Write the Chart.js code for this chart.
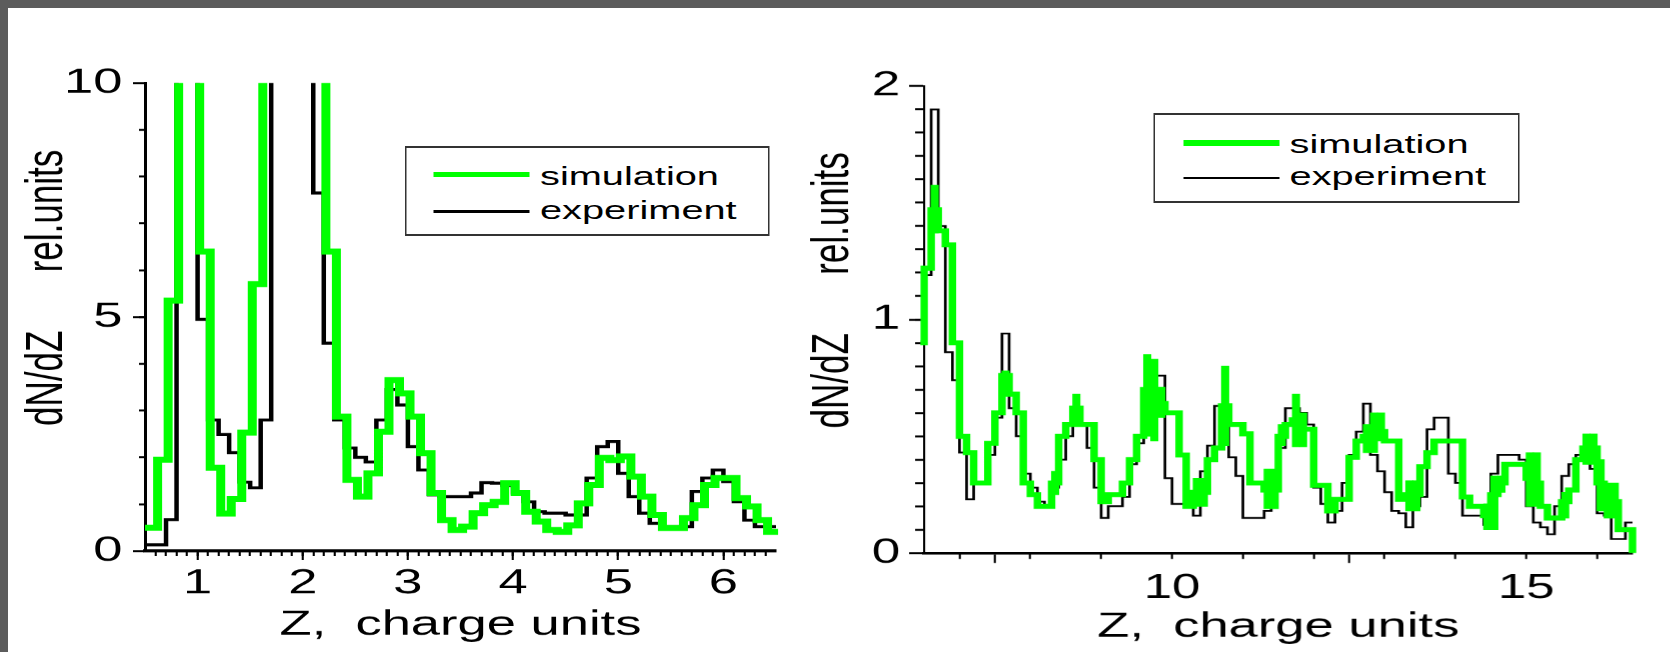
<!DOCTYPE html>
<html>
<head>
<meta charset="utf-8">
<script src="https://cdn.jsdelivr.net/npm/chart.js@4.4.1/dist/chart.umd.min.js"></script>
<style>
  html, body { margin: 0; padding: 0; overflow: hidden; scrollbar-width: none; background: #fff; }
  ::-webkit-scrollbar { display: none; }
  body {
    width: 1670px; height: 652px; position: relative;
    font-family: "Liberation Sans", Arial, sans-serif;
  }
  /* grey slide frame on the top and left edges */
  #frame {
    position: absolute; left: 0; top: 0; width: 1670px; height: 652px; box-sizing: border-box;
    border-left: 8px solid #5c5c5c; border-top: 8px solid #5c5c5c; background: #fff;
  }
  /* the original slide is stretched sideways, so everything is laid out narrow and widened */
  #stretch {
    position: absolute; left: 0; top: 0; width: 1113px; height: 652px; overflow: hidden;
    transform: scaleX(1.5); transform-origin: 0 0;
  }
  #stretch canvas { position: absolute; top: 0; }
  .legend-box {
    position: absolute; box-sizing: border-box; background: #fff;
    border-style: solid; border-color: #333; border-width: 2px 1.4px;
  }
  .swatch { position: absolute; }
  .ltext { position: absolute; font-size: 26.5px; line-height: 26.5px; color: #000; white-space: nowrap; }
</style>
</head>
<body>
<div id="frame"></div>
<div id="stretch">
  <canvas id="leftChart" width="530" height="652" style="left:0px"></canvas>
  <canvas id="rightChart" width="593" height="652" style="left:520px"></canvas>

  <div class="legend-box" style="left:270.3px; top:145.5px; width:243px; height:90.7px"></div>
  <div class="swatch" style="left:289.3px; top:172px; width:64px; height:5px; background:#00ff00"></div>
  <div class="swatch" style="left:289.3px; top:209.5px; width:64px; height:3px; background:#000"></div>
  <div class="ltext" style="left:360px; top:162.6px">simulation</div>
  <div class="ltext" style="left:360px; top:196.6px">experiment</div>

  <div class="legend-box" style="left:768.7px; top:113px; width:244px; height:90px"></div>
  <div class="swatch" style="left:789px; top:140px; width:64.3px; height:5.5px; background:#00ff00"></div>
  <div class="swatch" style="left:789px; top:177px; width:64.3px; height:2px; background:#000"></div>
  <div class="ltext" style="left:859.7px; top:130.6px">simulation</div>
  <div class="ltext" style="left:859.7px; top:162.6px">experiment</div>
</div>

<script>
// ---- data: dN/dZ histograms, bins of 0.1 charge units ----
const binWidth = 0.1;

// left panel, Z 0.5 .. 6.5 (values above 10 are off scale)
const leftSimStart = 0.42;
const leftSim = [
  0.5, 0.5, 1.95, 5.35, 24, 26, 6.4, 1.78, 0.8, 1.11,
  2.53, 5.7, 18, 40, 60, 55, 32, 16, 6.4, 2.87,
  1.52, 1.16, 1.66, 2.55, 3.65, 3.37, 2.87, 2.09, 1.24, 0.66,
  0.45, 0.52, 0.81, 0.98, 1.05, 1.45, 1.24, 0.84, 0.63, 0.45,
  0.41, 0.55, 1.02, 1.41, 1.99, 1.94, 2.02, 1.59, 1.16, 0.77,
  0.49, 0.49, 0.70, 0.98, 1.41, 1.56, 1.56, 1.13, 0.95, 0.66,
  0.41
];
const leftExpStart = 0.5;
const leftExp = [
  0.13, 0.13, 0.67, 20, 22, 4.95, 2.8, 2.49, 2.1, 1.47,
  1.35, 2.8, 25, 45, 50, 30, 7.65, 4.44, 2.8, 2.2,
  2.0, 1.9, 2.8, 3.45, 3.12, 2.23, 1.73, 1.2, 1.16, 1.16,
  1.16, 1.24, 1.46, 1.45, 1.4, 1.24, 1.05, 0.84, 0.81, 0.81,
  0.77, 0.77, 1.56, 2.23, 2.34, 1.66, 1.16, 0.81, 0.59, 0.52,
  0.52, 0.52, 1.27, 1.56, 1.73, 1.48, 1.05, 0.66, 0.52, 0.52
];
const leftXTicks = [1, 2, 3, 4, 5, 6];
const leftYTicks = [0, 5, 10];

// right panel, Z 6.5 .. 16.5
const rightSimStart = 6.4;
const rightSim = [
  0.90,
  1.22, 1.47, 1.38, 1.32, 0.90, 0.50, 0.43, 0.30, 0.30, 0.47,
  0.60, 0.76, 0.68, 0.60, 0.30, 0.25, 0.20, 0.20, 0.30, 0.50,
  0.55, 0.62, 0.55, 0.55, 0.40, 0.22, 0.25, 0.25, 0.30, 0.40,
  0.50, 0.70, 0.65, 0.64, 0.60, 0.60, 0.42, 0.20, 0.26, 0.26,
  0.40, 0.45, 0.63, 0.55, 0.55, 0.51, 0.30, 0.30, 0.27, 0.27,
  0.50, 0.55, 0.57, 0.53, 0.53, 0.29, 0.29, 0.18, 0.23, 0.23,
  0.41, 0.48, 0.50, 0.52, 0.52, 0.48, 0.48, 0.23, 0.25, 0.25,
  0.37, 0.43, 0.48, 0.48, 0.48, 0.48, 0.24, 0.20, 0.20, 0.16,
  0.25, 0.30, 0.38, 0.38, 0.38, 0.32, 0.30, 0.20, 0.15, 0.15,
  0.22, 0.27, 0.40, 0.45, 0.45, 0.30, 0.22, 0.22, 0.10, 0.10
];
const rightSimEnd = 0;
// bins where the simulation jitters inside one bin: [bin start, low, high]
const rightBandZ  = [6.6, 7.6, 8.3, 8.6, 9.6, 9.7, 9.8, 10.3, 10.4, 10.7, 11.3, 11.4, 11.5, 11.7, 11.8, 12.7, 12.8, 12.9, 13.3, 13.4, 14.4, 14.5, 14.6, 15.0, 15.1, 15.5, 15.8, 15.9, 16.0, 16.1, 16.2];
const rightBandLo = [1.37, 0.73, 0.25, 0.55, 0.50, 0.48, 0.58, 0.20, 0.20, 0.46, 0.19, 0.19, 0.46, 0.455, 0.455, 0.43, 0.43, 0.48, 0.18, 0.18, 0.10, 0.10, 0.26, 0.20, 0.20, 0.15, 0.38, 0.38, 0.18, 0.15, 0.15];
const rightBandHi = [1.575, 0.78, 0.35, 0.68, 0.85, 0.83, 0.71, 0.32, 0.32, 0.80, 0.36, 0.36, 0.55, 0.68, 0.60, 0.55, 0.60, 0.60, 0.31, 0.31, 0.21, 0.33, 0.33, 0.43, 0.43, 0.26, 0.51, 0.51, 0.40, 0.30, 0.30];
const rightExpStart = 6.5;
const rightExp = [
  1.19, 1.90, 1.40, 0.86, 0.74, 0.43, 0.23, 0.30, 0.30, 0.42,
  0.58, 0.94, 0.62, 0.50, 0.34, 0.28, 0.22, 0.20, 0.28, 0.40,
  0.50, 0.55, 0.55, 0.45, 0.28, 0.15, 0.20, 0.20, 0.24, 0.38,
  0.47, 0.55, 0.76, 0.76, 0.32, 0.21, 0.21, 0.21, 0.16, 0.35,
  0.46, 0.63, 0.55, 0.41, 0.33, 0.15, 0.15, 0.15, 0.18, 0.30,
  0.45, 0.62, 0.62, 0.60, 0.55, 0.28, 0.21, 0.13, 0.18, 0.30,
  0.42, 0.52, 0.64, 0.42, 0.35, 0.26, 0.18, 0.17, 0.11, 0.20,
  0.24, 0.53, 0.58, 0.58, 0.34, 0.30, 0.16, 0.16, 0.16, 0.12,
  0.34, 0.42, 0.42, 0.42, 0.40, 0.20, 0.13, 0.11, 0.08, 0.20,
  0.33, 0.38, 0.42, 0.40, 0.36, 0.17, 0.16, 0.06, 0.06, 0.13
];
const rightXTicks = [10, 15];
const rightYTicks = [0, 1, 2];

const GREEN = '#00ff00';
const FONT = "'Liberation Sans', Arial, Helvetica, sans-serif";

// step points: value i holds from bin edge i to edge i+1
function toSteps(start, values, endValue) {
  const pts = values.map((v, i) => ({ x: +(start + i * binWidth).toFixed(3), y: v }));
  const last = endValue === undefined ? values[values.length - 1] : endValue;
  pts.push({ x: +(start + values.length * binWidth).toFixed(3), y: last });
  return pts;
}

function range(from, to, step) {
  const out = [];
  for (let v = from; v <= to + 1e-9; v += step) out.push(+v.toFixed(3));
  return out;
}

function buildScales(o) {
  return {
    x: {
      type: 'linear', position: 'bottom', min: o.xMin, max: o.xMax, weight: 1, offset: false,
      afterBuildTicks: a => { a.ticks = o.xTicks.map(v => ({ value: v })); },
      afterFit: a => { a.height = o.xHeight; },
      border: { display: true, color: '#000', width: o.xBorder },
      grid: { drawOnChartArea: false, drawTicks: true, tickLength: o.xMajorLen, tickWidth: o.xTickW, tickColor: '#000' },
      ticks: { color: '#000', font: { family: FONT, size: o.tickFont }, padding: o.xPad, autoSkip: false, maxRotation: 0, callback: v => String(v) },
      title: { display: true, text: 'Z,  charge units', color: '#000', font: { family: FONT, size: 35 }, padding: { top: 0, bottom: o.xTitlePad } }
    },
    xMinor: {
      type: 'linear', position: 'bottom', min: o.xMin, max: o.xMax, weight: 0, offset: false,
      afterBuildTicks: a => { a.ticks = o.xMinor.map(v => ({ value: v })); },
      afterFit: a => { a.height = 0; },
      border: { display: false },
      grid: { drawOnChartArea: false, drawTicks: true, tickLength: o.xMinorLen, tickWidth: o.xTickW, tickColor: '#000' },
      ticks: { display: false }
    },
    y: {
      type: 'linear', position: 'left', min: o.yMin, max: o.yMax, weight: 1,
      afterBuildTicks: a => { a.ticks = o.yTicks.map(v => ({ value: v })); },
      afterFit: a => { a.width = o.yWidth; },
      border: { display: true, color: '#000', width: o.yBorder },
      grid: { drawOnChartArea: false, drawTicks: true, tickLength: o.yMajorLen, tickWidth: o.yTickW, tickColor: '#000' },
      ticks: { color: '#000', font: { family: FONT, size: o.tickFont }, padding: o.yPad, callback: v => String(v) },
      title: { display: true, text: '      dN/dZ      rel.units', color: '#000', font: { family: FONT, size: 35 }, padding: { top: o.yTitlePad, bottom: 0 } }
    },
    yMinor: {
      type: 'linear', position: 'left', min: o.yMin, max: o.yMax, weight: 0,
      afterBuildTicks: a => { a.ticks = o.yMinor.map(v => ({ value: v })); },
      afterFit: a => { a.width = 0; },
      border: { display: false },
      grid: { drawOnChartArea: false, drawTicks: true, tickLength: o.yMinorLen, tickWidth: o.yTickW, tickColor: '#000' },
      ticks: { display: false }
    }
  };
}

function baseOptions(scales, padding) {
  return {
    responsive: false,
    animation: false,
    devicePixelRatio: 1.5,
    layout: { padding: padding },
    plugins: { legend: { display: false }, tooltip: { enabled: false } },
    elements: { point: { radius: 0 }, line: { tension: 0 } },
    scales: scales
  };
}

function initCharts() {
  // left panel
  const leftScales = buildScales({
    xMin: 0.5, xMax: 6.5, xTicks: leftXTicks, xMinor: range(0.6, 6.4, 0.1),
    yMin: 0, yMax: 10, yTicks: leftYTicks, yMinor: range(1, 9, 1),
    xHeight: 101, yWidth: 96.67, tickFont: 35,
    xBorder: 3, yBorder: 2, xTickW: 1.4, yTickW: 2,
    xMajorLen: 9, xMinorLen: 5, yMajorLen: 8, yMinorLen: 4,
    xPad: 3, yPad: 7, xTitlePad: 6, yTitlePad: 10.8
  });
  new Chart(document.getElementById('leftChart').getContext('2d'), {
    type: 'line',
    data: {
      datasets: [
        { label: 'simulation', data: toSteps(leftSimStart, leftSim), stepped: 'before',
          borderColor: GREEN, borderWidth: 6, fill: false, clip: { left: 0, top: 0, right: 4, bottom: 4 } },
        { label: 'experiment', data: toSteps(leftExpStart, leftExp), stepped: 'before',
          borderColor: '#000', borderWidth: 3, fill: false, clip: { left: 0, top: 0, right: 4, bottom: 4 } }
      ]
    },
    options: baseOptions(leftScales, { top: 83, left: 0, right: 12.67, bottom: 0 })
  });

  // right panel
  const rightScales = buildScales({
    xMin: 6.5, xMax: 16.5, xTicks: rightXTicks, xMinor: range(7, 16, 1),
    yMin: 0, yMax: 2, yTicks: rightYTicks, yMinor: range(0.1, 1.9, 0.1),
    xHeight: 99, yWidth: 96, tickFont: 34,
    xBorder: 2.5, yBorder: 1.4, xTickW: 1.4, yTickW: 2,
    xMajorLen: 10, xMinorLen: 6, yMajorLen: 10, yMinorLen: 6,
    xPad: 5, yPad: 6, xTitlePad: 4, yTitlePad: 14.8
  });
  const band = rightBandZ.map((z, i) => ({ x: +(z + binWidth / 2).toFixed(3), y: [rightBandLo[i], rightBandHi[i]] }));
  new Chart(document.getElementById('rightChart').getContext('2d'), {
    type: 'line',
    data: {
      datasets: [
        { label: 'simulation', data: toSteps(rightSimStart, rightSim, rightSimEnd), stepped: 'before',
          borderColor: GREEN, borderWidth: 5, fill: false, clip: { left: 2.5, top: 0, right: 4, bottom: 4 } },
        { type: 'bar', label: 'simulation spread', data: band, backgroundColor: GREEN, borderWidth: 0,
          barPercentage: 1, categoryPercentage: 1, grouped: false },
        { label: 'experiment', data: toSteps(rightExpStart, rightExp), stepped: 'before',
          borderColor: '#000', borderWidth: 1.8, fill: false, clip: { left: 2, top: 0, right: 4, bottom: 4 } }
      ]
    },
    options: baseOptions(rightScales, { top: 86, left: 0, right: 25, bottom: 0 })
  });
}

window.onload = initCharts;
</script>
</body>
</html>
